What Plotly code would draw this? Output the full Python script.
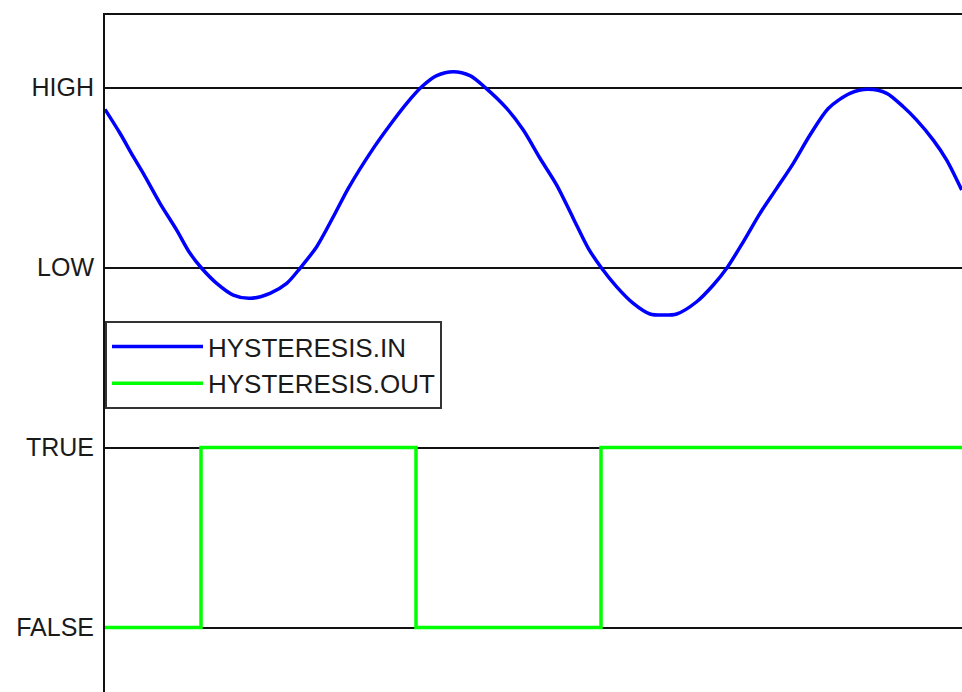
import plotly.graph_objects as go

# time axis (arbitrary units)
t_in = [0, 1.5, 2.83, 3.83, 5.5, 7.17, 8.5, 9.67, 11.17, 12.83, 14.5, 16.5, 18.17, 19.5,
        21.17, 22.83, 24.33, 26.83, 28.5, 30.17, 31.67, 33.17, 34.83, 36.5, 38.0, 40.17,
        41.83, 43.5, 45.17, 46.83, 48.33, 49.67, 51.17, 52.83, 54.5, 55.83, 57.17, 59.17,
        60.83, 62.17, 63.83, 65.5, 67.17, 68.83, 70.5, 72.33, 74.5, 76.33, 78.17, 79.83,
        81.17, 82.83, 84.17, 85.67]
hyst_in = [2.879, 2.746, 2.616, 2.523, 2.357, 2.208, 2.079, 1.996, 1.912, 1.847, 1.829,
           1.857, 1.912, 1.996, 2.116, 2.282, 2.44, 2.662, 2.792, 2.912, 3.004, 3.066,
           3.088, 3.066, 3.001, 2.884, 2.764, 2.607, 2.458, 2.273, 2.107, 1.996, 1.893,
           1.801, 1.742, 1.736, 1.742, 1.81, 1.903, 1.996, 2.143, 2.301, 2.44, 2.579,
           2.736, 2.884, 2.968, 2.99, 2.968, 2.893, 2.819, 2.708, 2.597, 2.431]

t_out = [0, 9.6, 31.1, 49.6, 85.7]
hyst_out = [0, 1, 0, 1, 1]

tick_vals = [0, 1, 2, 3]
tick_text = ["FALSE", "TRUE", "LOW", "HIGH"]
series_names = ["HYSTERESIS.IN", "HYSTERESIS.OUT"]

fig = go.Figure()
fig.add_trace(go.Scatter(x=t_in, y=hyst_in, mode="lines", name=series_names[0],
                         legendgroup="a",
                         line=dict(color="#0000ff", width=3.5, shape="spline", smoothing=0.8)))
fig.add_trace(go.Scatter(x=t_out, y=hyst_out, mode="lines", name=series_names[1],
                         legendgroup="b",
                         line=dict(color="#00ff00", width=3.5, shape="hv")))

fig.update_layout(
    width=962, height=692,
    margin=dict(l=105, r=0, t=15, b=0),
    paper_bgcolor="white", plot_bgcolor="white",
    font=dict(family="Liberation Sans, Arial, sans-serif", size=25, color="#1a1a1a"),
    showlegend=True,
    legend=dict(x=0, y=(692 - 321) / 677, xanchor="left", yanchor="top",
                bgcolor="white", bordercolor="#333333", borderwidth=2,
                font=dict(size=26, color="#1a1a1a"),
                itemwidth=91, tracegroupgap=8, traceorder="normal"),
    xaxis=dict(range=[0, 85.7], side="top", showline=True, linecolor="#111111",
               linewidth=2, showticklabels=False, showgrid=False, zeroline=False,
               ticks=""),
    yaxis=dict(range=[-0.358, 3.403], showline=True, linecolor="#111111", linewidth=2,
               tickvals=tick_vals, ticktext=tick_text, showgrid=True,
               gridcolor="#111111", gridwidth=2, zeroline=False, ticks="",
               ticklabelstandoff=4),
)

fig.write_html(
    "out.html",
    config={"displayModeBar": False},
    post_script="document.body.style.margin='0';document.body.style.overflow='hidden';",
)
